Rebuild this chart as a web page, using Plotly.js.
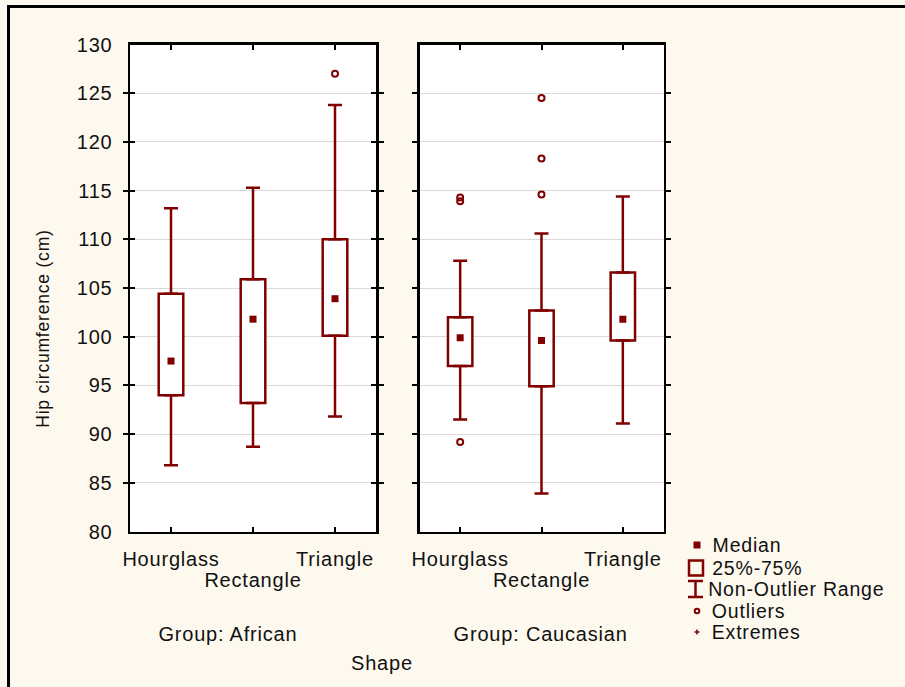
<!DOCTYPE html>
<html>
<head>
<meta charset="utf-8">
<script src="https://cdn.plot.ly/plotly-3.0.1.min.js"></script>
<style>
  html, body { margin: 0; padding: 0; overflow: hidden; background: #fef9ee; width: 905px; height: 687px; }
  #frame { position: absolute; left: 7px; top: 5px; width: 920px; height: 700px;
           border-left: 3px solid #000; border-top: 3px solid #000; }
  #chart { position: absolute; left: 0; top: 0; width: 905px; height: 687px; }
  #chart text { letter-spacing: 0.8px; }
</style>
</head>
<body>
<div id="frame"></div>
<div id="chart"></div>
<script>
// Hip circumference (cm) by body shape, for two groups
const categories = ['Hourglass', 'Rectangle', 'Triangle'];
const groupLabels = ['Group: African', 'Group: Caucasian'];
const yTickValues = [80, 85, 90, 95, 100, 105, 110, 115, 120, 125, 130];

// Group: African
const africanQ1 = [94.0, 93.2, 100.1];
const africanMedian = [97.5, 101.8, 103.9];
const africanQ3 = [104.4, 105.9, 110.0];
const africanLow = [86.8, 88.7, 91.8];
const africanHigh = [113.2, 115.3, 123.8];
const africanOutlierShape = ['Triangle'];
const africanOutlierValue = [127.0];

// Group: Caucasian
const caucasianQ1 = [97.0, 94.9, 99.6];
const caucasianMedian = [99.9, 99.6, 101.8];
const caucasianQ3 = [102.0, 102.7, 106.6];
const caucasianLow = [91.5, 83.9, 91.1];
const caucasianHigh = [107.8, 110.6, 114.4];
const caucasianOutlierShape = ['Hourglass', 'Hourglass', 'Hourglass', 'Rectangle', 'Rectangle', 'Rectangle'];
const caucasianOutlierValue = [114.3, 113.9, 89.2, 124.5, 118.3, 114.6];

const legendLabels = ['Median', '25%-75%', 'Non-Outlier Range', 'Outliers', 'Extremes'];

const W = 905, H = 687;
const RED = '#800000';
const FONT = 'Liberation Sans, Arial, sans-serif';
const TXT = '#111111';
const px = v => v / W;
const py = v => 1 - v / H;

const pos = categories.map((c, i) => i);
const idx = name => categories.indexOf(name);

function groupTraces(q1, med, q3, lo, hi, outShape, outVal, xa) {
  const common = { xaxis: xa, yaxis: 'y', showlegend: false, hoverinfo: 'skip' };
  return [
    // 25%-75% box
    Object.assign({
      type: 'bar', x: pos, base: q1, y: q3.map((v, i) => v - q1[i]), width: 0.3,
      marker: { color: '#ffffff', line: { color: RED, width: 2.5 } }
    }, common),
    // upper whisker (q3 -> upper non-outlier value)
    Object.assign({
      type: 'scatter', mode: 'markers', x: pos, y: q3,
      marker: { size: 1, opacity: 0 },
      error_y: { type: 'data', symmetric: false, array: hi.map((v, i) => v - q3[i]),
                 arrayminus: q3.map(() => 0), width: 7, thickness: 2.5, color: RED }
    }, common),
    // lower whisker (q1 -> lower non-outlier value)
    Object.assign({
      type: 'scatter', mode: 'markers', x: pos, y: q1,
      marker: { size: 1, opacity: 0 },
      error_y: { type: 'data', symmetric: false, array: q1.map(() => 0),
                 arrayminus: lo.map((v, i) => q1[i] - v), width: 7, thickness: 2.5, color: RED }
    }, common),
    // median
    Object.assign({
      type: 'scatter', mode: 'markers', x: pos, y: med,
      marker: { symbol: 'square', size: 7, color: RED }
    }, common),
    // outliers
    Object.assign({
      type: 'scatter', mode: 'markers', x: outShape.map(idx), y: outVal,
      marker: { symbol: 'circle-open', size: 6, color: RED, line: { color: RED, width: 2 } }
    }, common)
  ];
}

const traces = [].concat(
  groupTraces(africanQ1, africanMedian, africanQ3, africanLow, africanHigh,
              africanOutlierShape, africanOutlierValue, 'x'),
  groupTraces(caucasianQ1, caucasianMedian, caucasianQ3, caucasianLow, caucasianHigh,
              caucasianOutlierShape, caucasianOutlierValue, 'x2'),
  // second row of category labels lives on overlaying axes
  [{ type: 'scatter', x: [], y: [], xaxis: 'x3', yaxis: 'y', showlegend: false, hoverinfo: 'skip' },
   { type: 'scatter', x: [], y: [], xaxis: 'x4', yaxis: 'y', showlegend: false, hoverinfo: 'skip' }]
);

const tickFont = { family: FONT, size: 20, color: TXT };

function catAxis(domain) {
  return {
    domain: domain, range: [-0.5, 2.5], anchor: 'y',
    tickmode: 'array', tickvals: pos,
    ticktext: [categories[0], '', categories[2]],
    ticks: 'inside', ticklen: 5, tickwidth: 2, tickcolor: '#000',
    showline: true, linecolor: '#000', linewidth: 2.5, mirror: 'allticks',
    showgrid: false, zeroline: false, tickfont: tickFont,
    ticklabelstandoff: 8, fixedrange: true
  };
}
function middleRow(over) {
  return {
    overlaying: over, anchor: 'y', range: [-0.5, 2.5],
    tickmode: 'array', tickvals: [pos[1]], ticktext: [categories[1]],
    ticks: '', showline: false, showgrid: false, zeroline: false,
    tickfont: tickFont, ticklabelstandoff: 34, fixedrange: true
  };
}

const xd1 = [px(130), px(376)];
const xd2 = [px(419.5), px(663.5)];

// legend keys
const legendY = [545, 568, 589, 611, 632];
const lk = 697;
const shapes = [
  { type: 'rect', xref: 'paper', yref: 'paper', x0: px(lk - 3.5), x1: px(lk + 3.5),
    y0: py(legendY[0] - 3.5), y1: py(legendY[0] + 3.5), fillcolor: RED, line: { width: 0 } },
  { type: 'rect', xref: 'paper', yref: 'paper', x0: px(lk - 8), x1: px(lk + 6),
    y0: py(legendY[1] - 7.5), y1: py(legendY[1] + 7.5), line: { color: RED, width: 2.5 } },
  { type: 'path', xref: 'paper', yref: 'paper',
    path: `M${px(lk - 9)},${py(legendY[2] - 8)} L${px(lk + 6)},${py(legendY[2] - 8)} ` +
          `M${px(lk - 1.5)},${py(legendY[2] - 8)} L${px(lk - 1.5)},${py(legendY[2] + 8)} ` +
          `M${px(lk - 9)},${py(legendY[2] + 8)} L${px(lk + 6)},${py(legendY[2] + 8)}`,
    line: { color: RED, width: 2.5 } },
  { type: 'circle', xref: 'paper', yref: 'paper', x0: px(lk - 2.3), x1: px(lk + 2.3),
    y0: py(legendY[3] - 2.3), y1: py(legendY[3] + 2.3), line: { color: RED, width: 2 } },
  { type: 'path', xref: 'paper', yref: 'paper',
    path: `M${px(lk - 2.5)},${py(legendY[4])} L${px(lk + 2.5)},${py(legendY[4])} ` +
          `M${px(lk)},${py(legendY[4] - 2.5)} L${px(lk)},${py(legendY[4] + 2.5)}`,
    line: { color: RED, width: 1.5 } }
];

const annFont = { family: FONT, size: 20, color: TXT };
const annotations = [
  { text: groupLabels[0], x: px(228), y: py(634), xref: 'paper', yref: 'paper',
    xanchor: 'center', yanchor: 'middle', showarrow: false, font: annFont },
  { text: groupLabels[1], x: px(540), y: py(634), xref: 'paper', yref: 'paper',
    xanchor: 'center', yanchor: 'middle', showarrow: false, font: annFont },
  { text: 'Shape', x: px(382), y: py(663), xref: 'paper', yref: 'paper',
    xanchor: 'center', yanchor: 'middle', showarrow: false, font: annFont },
  { text: 'Hip circumference (cm)', x: px(43), y: py(329), xref: 'paper', yref: 'paper',
    xanchor: 'center', yanchor: 'middle', textangle: -90, showarrow: false,
    font: { family: FONT, size: 17.5, color: TXT } }
].concat(legendLabels.map((t, i) => ({
  text: t, x: px(713), y: py(legendY[i]), xref: 'paper', yref: 'paper',
  xanchor: 'left', yanchor: 'middle', showarrow: false,
  font: { family: FONT, size: 19.5, color: TXT }
})));

const layout = {
  width: W, height: H,
  margin: { l: 0, r: 0, t: 0, b: 0, pad: 0 },
  paper_bgcolor: 'rgba(0,0,0,0)',
  plot_bgcolor: '#ffffff',
  showlegend: false,
  barmode: 'overlay',
  xaxis: catAxis(xd1),
  xaxis2: catAxis(xd2),
  xaxis3: middleRow('x'),
  xaxis4: middleRow('x2'),
  yaxis: {
    domain: [py(531.5), py(44.5)], range: [80, 130], anchor: 'x',
    tickmode: 'array', tickvals: yTickValues,
    ticks: 'inside', ticklen: 5, tickwidth: 2, tickcolor: '#000',
    showline: true, linecolor: '#000', linewidth: 2.5, mirror: 'allticks',
    showgrid: true, gridcolor: '#dadada', gridwidth: 1, zeroline: false,
    tickfont: tickFont, ticklabelstandoff: 11, fixedrange: true
  },
  shapes: shapes,
  annotations: annotations
};

Plotly.newPlot('chart', traces, layout, { displayModeBar: false, staticPlot: true });
</script>
</body>
</html>
